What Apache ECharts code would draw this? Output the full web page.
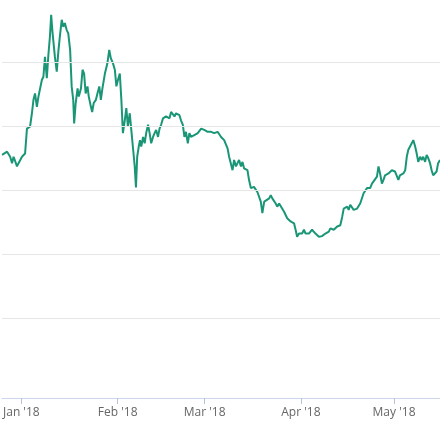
<!DOCTYPE html>
<html>
<head>
<meta charset="UTF-8">
<script src="https://cdn.jsdelivr.net/npm/echarts@6/dist/echarts.min.js"></script>
<style>
  html, body { margin: 0; padding: 0; background: #fff; }
  #chart { width: 440px; height: 440px; }
</style>
</head>
<body>
<div id="chart"></div>
<script>
  // days counted from 1 Jan 2018
  var days = [-6.2,-4.6,-3.6,-3.0,-2.5,-2.0,-1.4,-0.9,0.2,1.2,1.8,2.8,3.4,3.9,4.4,5.0,5.5,6.0,6.6,7.1,7.6,8.2,8.7,9.2,9.6,10.0,10.3,10.8,11.4,11.9,12.4,13.0,13.5,14.0,14.6,15.1,15.7,16.2,16.7,17.0,17.5,18.1,18.5,19.2,19.7,20.2,20.7,21.3,21.7,22.4,22.8,23.3,24.0,24.5,25.1,25.6,26.1,26.9,27.7,28.3,28.8,29.5,30.1,30.6,31.1,31.7,32.2,32.7,33.3,33.8,34.3,34.9,35.4,35.9,36.5,36.9,37.3,37.8,38.2,38.6,39.2,39.7,40.2,40.8,41.3,41.8,42.4,42.9,43.4,44.0,44.5,45.0,45.6,46.1,46.6,47.2,47.7,48.2,48.8,49.3,49.8,50.4,50.9,51.4,52.0,52.5,53.0,53.6,54.1,54.6,55.2,55.7,56.8,57.9,58.9,60.0,61.1,62.1,63.2,64.3,65.3,66.4,66.9,67.5,68.0,68.5,69.1,69.6,70.1,70.7,71.2,71.7,72.8,73.3,73.9,74.4,74.9,75.5,76.0,76.5,77.1,77.6,78.2,78.7,79.8,80.3,80.8,81.4,81.9,82.4,83.0,83.5,84.6,85.6,86.7,87.8,88.3,88.8,89.4,89.9,90.4,91.0,91.5,92.0,92.6,93.6,94.2,94.7,95.2,95.8,96.3,96.8,97.9,99.0,99.5,100.6,101.1,101.7,102.7,103.3,103.8,104.9,105.4,105.9,106.5,107.0,108.1,108.6,109.1,110.2,110.7,111.3,111.8,112.3,112.9,113.4,114.5,115.0,115.5,116.1,116.6,117.1,118.2,119.3,120.3,121.4,121.9,123.0,123.6,124.1,124.6,125.7,126.2,126.8,127.3,127.8,128.4,128.9,129.4,130.0,130.5,131.0,131.6,132.1,132.6,133.2,133.7,134.2,134.8];
  var prices = [455,460,452,442,452,455,437,442,452,457,496,499,520,541,551,530,546,549,572,577,608,575,611,640,674,648,650,608,585,616,640,666,655,661,650,645,619,562,541,504,536,559,546,559,588,582,551,562,546,530,522,536,541,551,562,541,559,582,598,619,606,598,588,562,572,582,541,489,509,528,499,520,494,468,437,404,452,468,478,468,483,473,489,502,489,473,483,489,494,483,496,502,512,512,515,517,512,522,525,515,520,517,517,509,502,483,491,473,489,483,481,486,489,496,494,491,491,489,491,483,478,465,452,452,431,447,437,442,447,437,444,434,431,416,403,400,405,403,397,395,382,364,382,384,387,392,387,384,379,374,379,377,366,356,351,348,338,327,332,335,332,338,332,330,332,338,340,332,330,327,326,328,332,335,340,338,340,343,345,358,371,374,369,377,374,369,371,374,379,395,397,403,405,403,410,413,421,437,426,410,416,423,426,431,429,416,423,426,431,452,463,473,478,468,457,444,452,447,452,444,455,450,442,431,423,421,429,442,447];
  var monthStarts = [0, 31, 59, 90, 120];
  var monthLabels = ["Jan '18", "Feb '18", "Mar '18", "Apr '18", "May '18"];
  var gridValues = [200, 300, 400, 500, 600];

  var chart = echarts.init(document.getElementById('chart'));
  var points = days.map(function (d, i) { return [d, prices[i]]; });
  chart.setOption({
    animation: false,
    grid: { left: 0, right: 0, top: 0, bottom: 42 },
    xAxis: {
      type: 'value', min: -6.25, max: 134.8,
      splitLine: { show: false },
      axisLine: { lineStyle: { color: '#ccd6eb', width: 1 } },
      axisTick: { customValues: monthStarts, length: 6, lineStyle: { color: '#b8c2d6', width: 1 } },
      axisLabel: {
        customValues: monthStarts, color: '#666', fontSize: 12, margin: 9,
        fontFamily: 'Open Sans',
        formatter: function (v) { return monthLabels[monthStarts.indexOf(v)] || ''; }
      }
    },
    yAxis: {
      type: 'value', min: 75, max: 697,
      splitLine: { show: false }, axisLabel: { show: false },
      axisLine: { show: false }, axisTick: { show: false }
    },
    series: [{
      type: 'line', data: points, showSymbol: false,
      lineStyle: { color: '#1a9677', width: 2 },
      markLine: {
        silent: true, symbol: 'none', label: { show: false },
        lineStyle: { color: '#e6e6e6', type: 'solid', width: 1 },
        data: gridValues.map(function (v) { return { yAxis: v }; })
      }
    }]
  });
</script>
</body>
</html>
